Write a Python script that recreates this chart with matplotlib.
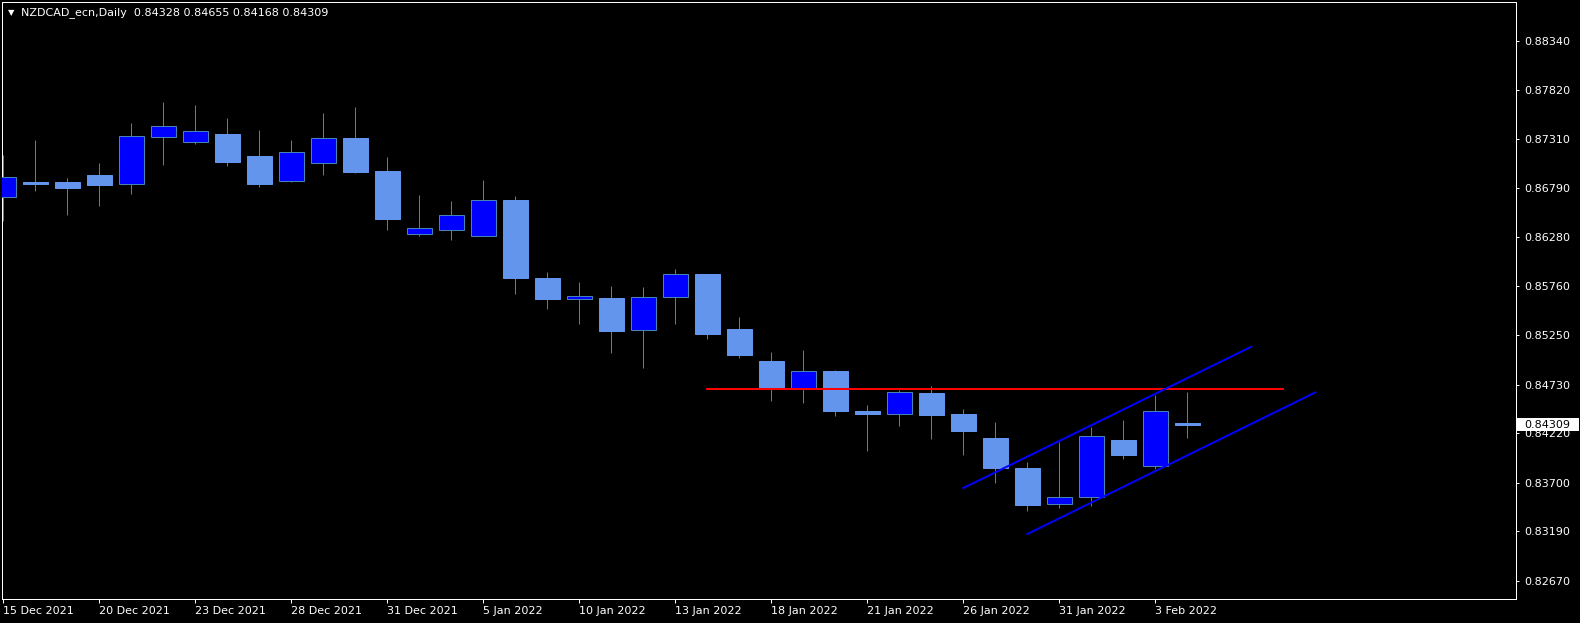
import numpy as np
import pandas as pd
import matplotlib
matplotlib.use("Agg")
import matplotlib.pyplot as plt
import matplotlib.transforms as mtransforms
from matplotlib.patches import Rectangle

# NZDCAD daily OHLC
opens = [0.86702, 0.86856, 0.86856, 0.86930, 0.86832, 0.87326, 0.87280, 0.87360,
         0.87129, 0.86864, 0.87053, 0.87318, 0.86972, 0.86314, 0.86356, 0.86293,
         0.86667, 0.85848, 0.85631, 0.85638, 0.85305, 0.85652, 0.85890, 0.85313,
         0.84977, 0.84690, 0.84872, 0.84452, 0.84423, 0.84641, 0.84420, 0.84168,
         0.83853, 0.83472, 0.83546, 0.84147, 0.83871, 0.84328]
highs = [0.87140, 0.87297, 0.86895, 0.87056, 0.87476, 0.87696, 0.87665, 0.87528,
         0.87402, 0.87297, 0.87581, 0.87644, 0.87119, 0.86720, 0.86657, 0.86877,
         0.86709, 0.85911, 0.85806, 0.85764, 0.85754, 0.85943, 0.85892, 0.85439,
         0.85071, 0.85092, 0.84882, 0.84515, 0.84672, 0.84714, 0.84473, 0.84336,
         0.83916, 0.84126, 0.84287, 0.84357, 0.84620, 0.84655]
lows = [0.86450, 0.86765, 0.86513, 0.86608, 0.86734, 0.87038, 0.87259, 0.87028,
        0.86807, 0.86860, 0.86933, 0.86954, 0.86352, 0.86293, 0.86247, 0.86290,
        0.85680, 0.85523, 0.85365, 0.85061, 0.84903, 0.85365, 0.85208, 0.85011,
        0.84557, 0.84536, 0.84399, 0.84032, 0.84294, 0.84158, 0.83990, 0.83699,
        0.83405, 0.83437, 0.83458, 0.83951, 0.83840, 0.84168]
closes = [0.86906, 0.86838, 0.86797, 0.86825, 0.87336, 0.87444, 0.87389, 0.87070,
          0.86838, 0.87168, 0.87315, 0.86964, 0.86471, 0.86373, 0.86507, 0.86664,
          0.85852, 0.85628, 0.85659, 0.85292, 0.85649, 0.85887, 0.85264, 0.85040,
          0.84693, 0.84869, 0.84452, 0.84420, 0.84648, 0.84410, 0.84245, 0.83856,
          0.83468, 0.83546, 0.84186, 0.83990, 0.84449, 0.84309]
bar_dates = pd.bdate_range("2021-12-15", "2022-02-04")

price_ticks = [0.88340, 0.87820, 0.87310, 0.86790, 0.86280, 0.85760,
               0.85250, 0.84730, 0.84220, 0.83700, 0.83190, 0.82670]

# drawn objects (bar index, price)
resistance_level = 0.84687
resistance_bars = [22, 40]
channel_upper = [(30, 0.83643), (39, 0.85127)]
channel_lower = [(32, 0.83160), (41, 0.84647)]
last_price = 0.84309
title = "NZDCAD_ecn,Daily  0.84328 0.84655 0.84168 0.84309"

W, H = 1580, 623
wick_col = "#4682b4"
bull_col = "#0000ff"
bear_col = "#6495ed"
px = 0.72  # one pixel in points at dpi 100

fig = plt.figure(figsize=(W / 100, H / 100), dpi=100, facecolor="black")
ax = fig.add_axes([2 / W, 24 / H, 1514 / W, 597 / H])
ax.set_facecolor("black")

x = np.arange(len(opens))
o, h, l, c = (np.array(v) for v in (opens, highs, lows, closes))
up = c >= o

ax.vlines(x, l, h, color=wick_col, lw=px, zorder=2)
ax.bar(x[up], (c - o)[up], bottom=o[up], width=0.78, color=bull_col,
       edgecolor=wick_col, lw=px, zorder=3)
ax.bar(x[~up], (o - c)[~up], bottom=c[~up], width=0.78, color=bear_col,
       edgecolor=bear_col, lw=px, zorder=3)

# resistance + channel
ax.plot(resistance_bars, [resistance_level] * 2, color="#ff0000", lw=2 * px, zorder=4)
for line in (channel_upper, channel_lower):
    ax.plot([p[0] for p in line], [p[1] for p in line], color="#0000ff", lw=2 * px, zorder=4)

ax.set_xlim(-0.04, 47.27)
ax.set_ylim(0.82478, 0.88746)

for s in ax.spines.values():
    s.set_color("white")
    s.set_linewidth(px)

ax.yaxis.tick_right()
ax.set_yticks(price_ticks)
ax.set_yticklabels([f"{v:.5f}" for v in price_ticks])
ax.tick_params(axis="y", colors="white", direction="out", length=2.2, width=px,
               pad=4, labelsize=8)

tick_idx = x[::3]
ax.set_xticks(tick_idx)
ax.set_xticklabels([f"{bar_dates[i].day} {bar_dates[i]:%b %Y}" for i in tick_idx], ha="left")
ax.tick_params(axis="x", colors="white", direction="out", length=3, width=px,
               pad=2, labelsize=8)

# title
fig.text(11 / W, 1 - 12.5 / H, "\u25bc", color="white", fontsize=6, ha="center", va="center")
fig.text(21 / W, 1 - 12.5 / H, title, color="white", fontsize=8, ha="left", va="center")

# current price box
tr = mtransforms.blended_transform_factory(fig.transFigure, ax.transData)
box = Rectangle((1517 / W, last_price - 0.00068), 62 / W, 0.00137, transform=tr,
                facecolor="white", edgecolor="none", zorder=5)
fig.add_artist(box)
fig.text(1524 / W, last_price, f"{last_price:.5f}", transform=tr, color="black",
         fontsize=8, ha="left", va="center", zorder=6)

fig.savefig("out.png", dpi=100, facecolor="black")
